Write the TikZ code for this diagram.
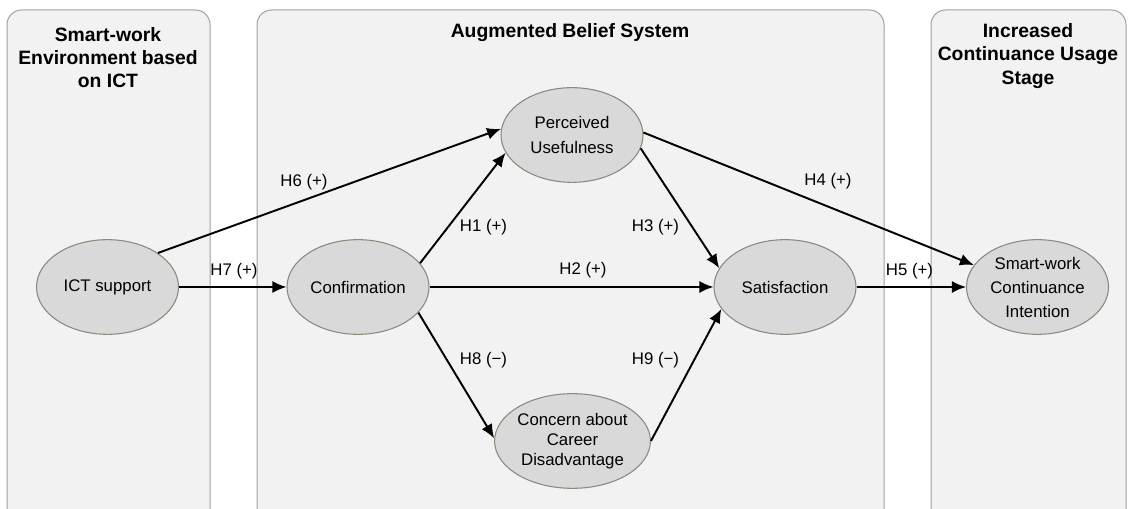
\documentclass[tikz,border=0pt]{standalone}
\usepackage{fontspec}
\setmainfont{Liberation Sans}
\usetikzlibrary{shapes.geometric,arrows.meta}
\definecolor{panelfill}{HTML}{F2F2F2}
\definecolor{paneledge}{HTML}{A0A0A0}
\definecolor{ellfill}{HTML}{D9D9D9}
\definecolor{elledge}{HTML}{8F877C}
\begin{document}
\begin{tikzpicture}[x=0.75pt,y=-0.75pt,
  panel/.style={fill=panelfill,draw=paneledge,line width=0.75pt,rounded corners=11pt},
  construct/.style={ellipse,fill=ellfill,draw=elledge,line width=0.8pt,minimum width=106.5pt,minimum height=71pt,inner sep=0pt,align=center,font=\fontsize{12.6}{18}\selectfont},
  title/.style={font=\fontsize{14.5}{17.3}\selectfont\bfseries,align=center},
  hlabel/.style={font=\fontsize{12.6}{15}\selectfont,inner sep=0pt},
  link/.style={line width=1.45pt,-{Latex[length=10.5pt,width=9pt]}}]
\useasboundingbox (0,0) rectangle (1133,509);
\clip (0,0) rectangle (1133,509);
% panels
\draw[panel] (7,10) rectangle (210,540);
\draw[panel] (257,10) rectangle (884,540);
\draw[panel] (931,10) rectangle (1126,540);
% titles
\node[title] (t1) at (108,58) {Smart-work\\Environment based\\on ICT};
\node[title] (t2) at (570,33) {Augmented Belief System};
\node[title] (t3) at (1028,56) {Increased\\Continuance Usage\\Stage};
% constructs
\node[construct] (ict) at (107.5,287) {ICT support};
\node[construct] (conf) at (358,287) {Confirmation};
\node[construct] (pu) at (572,135) {Perceived\\Usefulness};
\node[construct] (sat) at (785,287) {Satisfaction};
\node[construct,font=\fontsize{12.6}{15}\selectfont] (cc) at (572.5,441) {Concern about\\Career\\Disadvantage};
\node[construct] (sci) at (1037.5,287) {Smart-work\\Continuance\\Intention};
% links
\draw[link] (ict.34) -- (pu.175);
\draw[link] (ict.east) -- (conf.west);
\draw[link] (conf.21) -- (pu.195);
\draw[link] (conf.east) -- (sat.west);
\draw[link] (conf.337) -- (cc.178);
\draw[link] (pu.349) -- (sat.164);
\draw[link] (cc.0) -- (sat.199);
\draw[link] (pu.2) -- (sci.161);
\draw[link] (sat.east) -- (sci.west);
% labels
\node[hlabel] (h6) at (304,182) {H6 (+)};
\node[hlabel] (h7) at (234,271) {H7 (+)};
\node[hlabel] (h1) at (483.5,227) {H1 (+)};
\node[hlabel] (h3) at (655.5,227) {H3 (+)};
\node[hlabel] (h2) at (583,270) {H2 (+)};
\node[hlabel] (h8) at (483.5,360) {H8 (−)};
\node[hlabel] (h9) at (655.5,360) {H9 (−)};
\node[hlabel] (h4) at (828,181) {H4 (+)};
\node[hlabel] (h5) at (909.5,271) {H5 (+)};
\end{tikzpicture}
\end{document}
